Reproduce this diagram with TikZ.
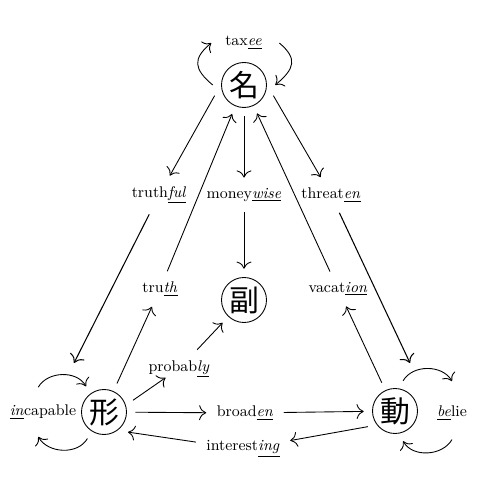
\documentclass[tikz,border=0pt]{standalone}
\usepackage{fontspec}
\usetikzlibrary{arrows.meta}
\newfontfamily\jpfont{Noto Sans CJK JP}
\newcommand{\sfx}[1]{\underline{\textit{#1}}}
\tikzset{
  >={To[scale=1.5]},
  every path/.style={line width=0.5pt},
  kanji/.style={circle, draw, minimum size=0.9cm, inner sep=0pt, outer sep=5pt, font=\jpfont\fontsize{17}{17}\selectfont},
  wordlbl/.style={inner sep=3pt, outer sep=3pt, font=\fontsize{8.8}{10}\selectfont}
}

\begin{document}
\begin{tikzpicture}
\useasboundingbox (0,0) rectangle (10,10);

% Word classes
\node[kanji] (M) at (4.88, 8.30) {名};
\node[kanji] (F) at (4.88, 4.00) {副};
\node[kanji] (K) at (2.08, 1.76) {形};
\node[kanji] (D) at (7.90, 1.78) {動};

% Derived words
\node[wordlbl] (taxee) at (4.87, 9.14) {tax\sfx{ee}};
\node[wordlbl] (truthful) at (3.18, 6.10) {truth\sfx{ful}};
\node[wordlbl] (moneywise) at (4.88, 6.10) {money\sfx{wise}};
\node[wordlbl] (threaten) at (6.62, 6.10) {threat\sfx{en}};
\node[wordlbl] (truth) at (3.20, 4.22) {tru\sfx{th}};
\node[wordlbl] (vacation) at (6.76, 4.22) {vacat\sfx{ion}};
\node[wordlbl] (probably) at (3.58, 2.62) {probab\sfx{ly}};
\node[wordlbl] (broaden) at (4.90, 1.74) {broad\sfx{en}};
\node[wordlbl] (interesting) at (4.86, 1.02) {interest\sfx{ing}};
\node[wordlbl] (incapable) at (0.86, 1.76) {\sfx{in}capable};
\node[wordlbl] (belie) at (9.04, 1.74) {\sfx{be}lie};

\coordinate (K-in) at (1.48, 2.74);
\coordinate (D-in) at (8.20, 2.74);

% Noun
\draw[->] (M.200) -- (truthful);
\draw[->, semithick] (truthful) -- (K-in);
\draw[->] (M) -- (moneywise);
\draw[->] (moneywise) -- (F);
\draw[->] (M.340) -- (threaten);
\draw[->, semithick] (threaten) -- (D-in);

% Back to the noun
\draw[->] (K) -- (truth);
\draw[->] (truth) -- (M);
\draw[->] (D) -- (vacation);
\draw[->] (vacation) -- (M);

% Adjective and verb
\draw[->] (K.22) -- ([yshift=6pt]probably.235);
\draw[->] (probably) -- (F);
\draw[->] (K) -- (broaden);
\draw[->] (broaden) -- (D);
\draw[->] (D.210) -- (interesting);
\draw[->] (interesting) -- (K.320);

% Loops
\draw[->] (M.180) to[out=140, in=220, looseness=1.5] ([xshift=-2pt]taxee.west);
\draw[->] ([xshift=4pt]taxee.east) to[out=-40, in=40, looseness=1.5] (M.0);
\draw[->] ([yshift=4pt]incapable.105) to[out=60, in=120] (K.125);
\draw[->] (K.238) to[out=240, in=300] ([yshift=-4pt]incapable.255);
\draw[->] (D.75) to[out=60, in=120] ([yshift=8pt]belie.north);
\draw[->] ([yshift=-5pt]belie.south) to[out=240, in=300] (D.285);

\end{tikzpicture}
\end{document}
